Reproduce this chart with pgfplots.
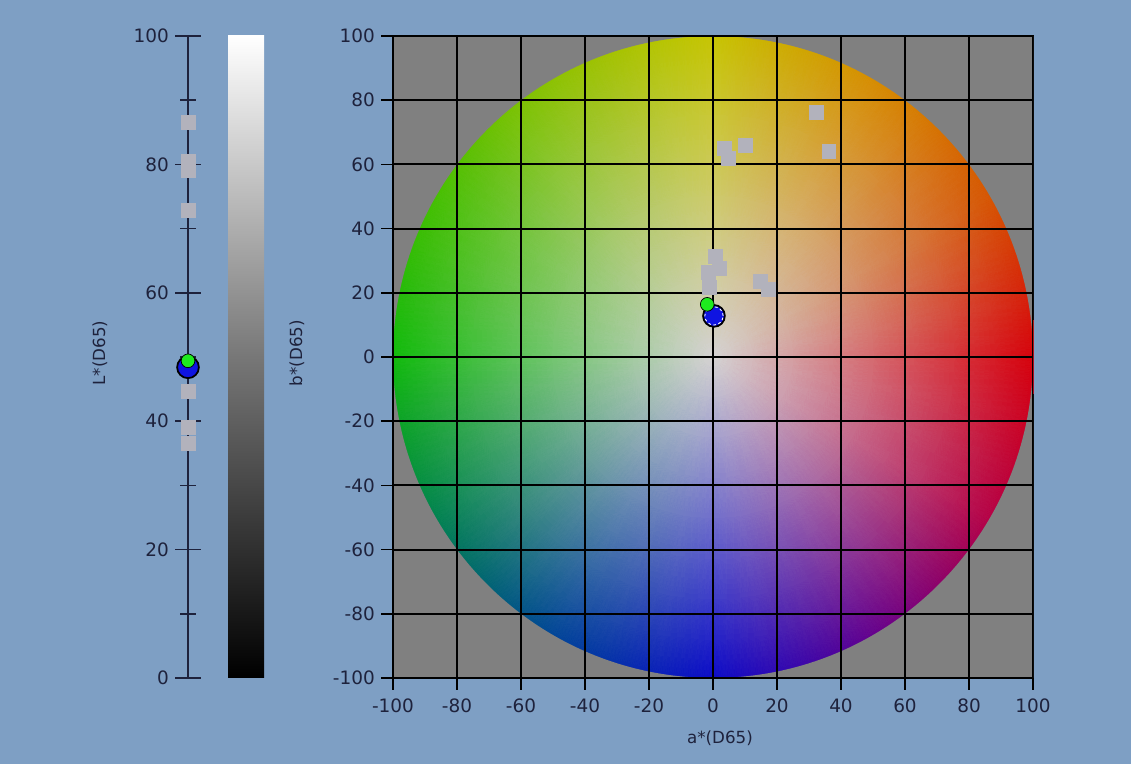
\documentclass[border=0pt]{standalone}
\usepackage{fontspec}
\setmainfont{DejaVu Sans}
\usepackage{pgfplots}
\pgfplotsset{compat=1.18}
\definecolor{bgblue}{RGB}{126,159,196}
\definecolor{plotgray}{RGB}{128,128,128}
\definecolor{navy}{RGB}{30,34,60}
\definecolor{sq}{RGB}{178,178,188}
\definecolor{mblue}{RGB}{15,20,225}
\definecolor{mgreen}{RGB}{30,235,30}
\pgfplotstableread{
t r c
0 0 rgb=0.83,0.82,0.82
10 0 rgb=0.83,0.82,0.82
20 0 rgb=0.83,0.82,0.82
30 0 rgb=0.83,0.82,0.82
40 0 rgb=0.83,0.82,0.82
50 0 rgb=0.83,0.82,0.82
60 0 rgb=0.83,0.82,0.82
70 0 rgb=0.83,0.82,0.82
80 0 rgb=0.83,0.82,0.82
90 0 rgb=0.83,0.82,0.82
100 0 rgb=0.83,0.82,0.82
110 0 rgb=0.83,0.82,0.82
120 0 rgb=0.83,0.82,0.82
130 0 rgb=0.83,0.82,0.82
140 0 rgb=0.83,0.82,0.82
150 0 rgb=0.83,0.82,0.82
160 0 rgb=0.83,0.82,0.82
170 0 rgb=0.83,0.82,0.82
180 0 rgb=0.83,0.82,0.82
190 0 rgb=0.83,0.82,0.82
200 0 rgb=0.83,0.82,0.82
210 0 rgb=0.83,0.82,0.82
220 0 rgb=0.83,0.82,0.82
230 0 rgb=0.83,0.82,0.82
240 0 rgb=0.83,0.82,0.82
250 0 rgb=0.83,0.82,0.82
260 0 rgb=0.83,0.82,0.82
270 0 rgb=0.83,0.82,0.82
280 0 rgb=0.83,0.82,0.82
290 0 rgb=0.83,0.82,0.82
300 0 rgb=0.83,0.82,0.82
310 0 rgb=0.83,0.82,0.82
320 0 rgb=0.83,0.82,0.82
330 0 rgb=0.83,0.82,0.82
340 0 rgb=0.83,0.82,0.82
350 0 rgb=0.83,0.82,0.82
360 0 rgb=0.83,0.82,0.82

0 101 rgb=0.84,0.00,0.04
10 101 rgb=0.84,0.11,0.03
20 101 rgb=0.84,0.22,0.01
30 101 rgb=0.84,0.33,0.00
40 101 rgb=0.84,0.40,0.00
50 101 rgb=0.84,0.48,0.00
60 101 rgb=0.84,0.55,0.00
70 101 rgb=0.82,0.62,0.00
80 101 rgb=0.80,0.69,0.00
90 101 rgb=0.78,0.77,0.00
100 101 rgb=0.71,0.77,0.00
110 101 rgb=0.63,0.76,0.00
120 101 rgb=0.55,0.76,0.00
130 101 rgb=0.46,0.76,0.00
140 101 rgb=0.36,0.75,0.00
150 101 rgb=0.27,0.75,0.00
160 101 rgb=0.20,0.74,0.01
170 101 rgb=0.13,0.73,0.03
180 101 rgb=0.06,0.73,0.04
190 101 rgb=0.04,0.65,0.13
200 101 rgb=0.02,0.58,0.22
210 101 rgb=0.00,0.51,0.31
220 101 rgb=0.00,0.43,0.40
230 101 rgb=0.00,0.35,0.50
240 101 rgb=0.00,0.27,0.59
250 101 rgb=0.01,0.20,0.65
260 101 rgb=0.03,0.12,0.72
270 101 rgb=0.04,0.04,0.78
280 101 rgb=0.16,0.03,0.71
290 101 rgb=0.27,0.01,0.63
300 101 rgb=0.39,0.00,0.55
310 101 rgb=0.50,0.00,0.46
320 101 rgb=0.60,0.00,0.36
330 101 rgb=0.71,0.00,0.27
340 101 rgb=0.75,0.00,0.20
350 101 rgb=0.80,0.00,0.12
360 101 rgb=0.84,0.00,0.04
}\disk
\begin{document}
\begin{tikzpicture}
\fill[bgblue] (0,0) rectangle (22.62,15.28);
\fill[plotgray] (7.86,1.72) rectangle (20.66,14.56);
\shade[top color=white, bottom color=black, middle color={rgb,255:red,119;green,119;blue,119}] (4.56,1.72) rectangle (5.28,14.56);

% L* axis
\begin{axis}[at={(3.76cm,1.72cm)}, anchor=south west, scale only axis,
  width=1cm, height=12.84cm, xmin=0, xmax=1, ymin=0, ymax=100,
  axis x line=none, axis y line=left,
  axis line style={-, navy, line width=1pt},
  ytick={0,20,...,100}, minor ytick={10,30,...,90},
  tick align=center, major tick length=0.52cm, minor tick length=0.32cm,
  tick style={navy, line width=1pt},
  yticklabel style={font=\fontsize{10.5}{12}\selectfont, text=navy},
  /pgf/number format/assume math mode=true,
  clip=false]
\addplot[only marks, mark=square*, mark size=3.97pt, color=sq] coordinates {(0,86.6) (0,80.4) (0,79.0) (0,72.8) (0,44.6) (0,39.0) (0,36.6)};
\addplot[only marks, mark=*, mark size=6.2pt, mark options={fill=mblue, draw=black, line width=1pt}] coordinates {(0,48.4)};
\addplot[only marks, mark=*, mark size=3.9pt, mark options={fill=mgreen, draw=none}] coordinates {(0,49.4)};
\end{axis}

% a*b* axis
\begin{axis}[at={(7.86cm,1.72cm)}, anchor=south west, scale only axis,
  width=12.8cm, height=12.84cm,
  xmin=-100, xmax=100, ymin=-100, ymax=100,
  xtick={-100,-80,...,100}, ytick={-100,-80,...,100},
  tick align=outside, tick pos=left, major tick length=0.24cm,
  tick style={black, line width=1pt},
  axis line style={black, line width=1pt},
  ticklabel style={font=\fontsize{10.5}{12}\selectfont, text=navy},
  xticklabel style={yshift=-0.06cm},
  /pgf/number format/assume math mode=true]
\addplot[surf, shader=interp, mesh/color input=explicit, point meta=explicit symbolic,
  data cs=polar, mesh/cols=37] table[x=t, y=r, meta=c] {\disk};
\fill[plotgray, even odd rule] (axis cs:-100,-100) rectangle (axis cs:100,100)
  (axis cs:0,0) circle[radius=100];
\addplot[black, line width=1.1pt, unbounded coords=jump, mark=none] coordinates {
  (-80,-100) (-80,100) (nan,nan) (-60,-100) (-60,100) (nan,nan)
  (-40,-100) (-40,100) (nan,nan) (-20,-100) (-20,100) (nan,nan)
  (0,-100) (0,100) (nan,nan) (20,-100) (20,100) (nan,nan)
  (40,-100) (40,100) (nan,nan) (60,-100) (60,100) (nan,nan)
  (80,-100) (80,100) (nan,nan)
  (-100,-80) (100,-80) (nan,nan) (-100,-60) (100,-60) (nan,nan)
  (-100,-40) (100,-40) (nan,nan) (-100,-20) (100,-20) (nan,nan)
  (-100,0) (100,0) (nan,nan) (-100,20) (100,20) (nan,nan)
  (-100,40) (100,40) (nan,nan) (-100,60) (100,60) (nan,nan)
  (-100,80) (100,80)};
\draw[black, line width=1pt] (axis cs:-100,-100) rectangle (axis cs:100,100);
\addplot[only marks, mark=square*, mark size=3.97pt, color=sq] coordinates {
  (32.2,76.3) (36.2,64.2) (10,66) (3.5,65) (4.8,62)
  (0.7,31.4) (2,27.5) (-1.5,26.3) (-1.2,21.8) (14.7,23.7) (17.3,21.2)};
\addplot[only marks, mark=*, mark size=6.2pt, mark options={fill=mblue, draw=black, line width=1pt}] coordinates {(0.3,12.8)};
\addplot[only marks, mark=o, mark size=5.2pt, mark options={draw=white, line width=0.5pt, dash pattern=on 1.5pt off 1.5pt}] coordinates {(0.3,12.8)};
\addplot[only marks, mark=*, mark size=3.9pt, mark options={fill=mgreen, draw=none}] coordinates {(-1.8,16.4)};
\end{axis}

\node[rotate=90, text=navy, font=\fontsize{9.5}{11}\selectfont] at (2.0,8.22) {L*(D65)};
\node[rotate=90, text=navy, font=\fontsize{9.5}{11}\selectfont] at (5.94,8.22) {b*(D65)};
\node[text=navy, font=\fontsize{9.5}{11}\selectfont] at (14.4,0.52) {a*(D65)};
\end{tikzpicture}
\end{document}
